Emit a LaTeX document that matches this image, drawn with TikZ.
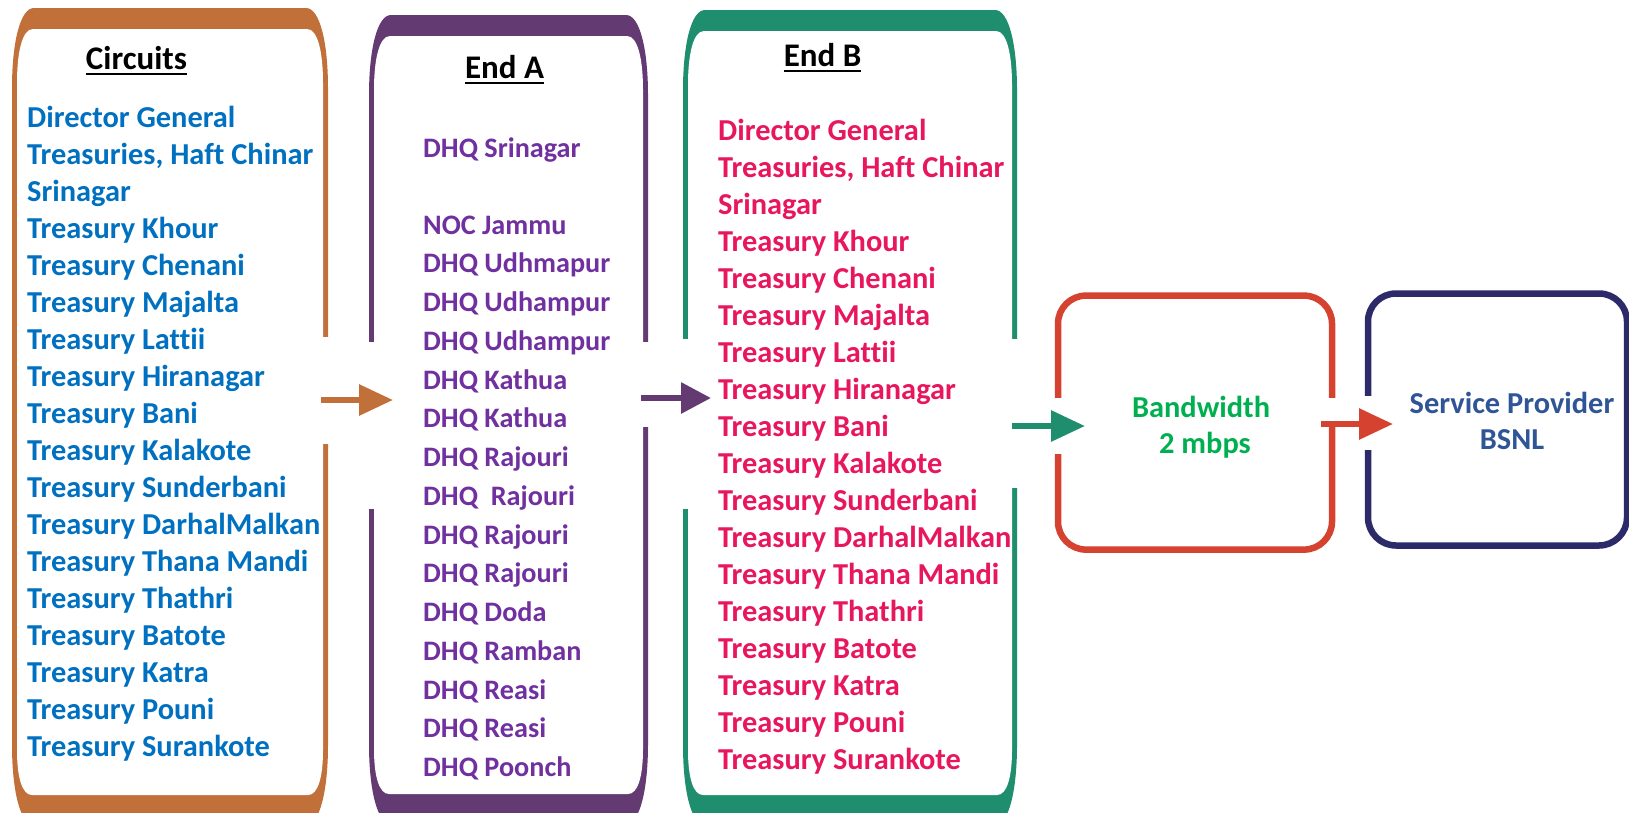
\documentclass[tikz,border=0pt]{standalone}
\usepackage{fontspec}
\setmainfont{Carlito}[Ligatures=NoCommon]
\usetikzlibrary{arrows.meta}
\definecolor{cOrange}{HTML}{C1703A}
\definecolor{cPurple}{HTML}{633A72}
\definecolor{cGreen}{HTML}{1F8E6E}
\definecolor{cRed}{HTML}{D54230}
\definecolor{cNavy}{HTML}{2C2A68}
\definecolor{tBlue}{HTML}{0070C0}
\definecolor{tPurple}{HTML}{7030A0}
\definecolor{tPink}{HTML}{E8175D}
\definecolor{tGreen}{HTML}{00B050}
\definecolor{tNavy}{HTML}{2F5597}
\newcommand\jarbox[5]{%
 \fill[#5] ({#1+22},#3) -- ({#2-22},#3) .. controls ({#2-8},#3) and (#2,{#3+35}) .. (#2,{#3+80})
   -- (#2,{#4-50}) .. controls (#2,{#4-5}) and ({#2-8},{#4+30}) .. ({#2-22},{#4+30})
   -- ({#1+22},{#4+30}) .. controls ({#1+8},{#4+30}) and (#1,{#4-5}) .. (#1,{#4-50})
   -- (#1,{#3+80}) .. controls (#1,{#3+35}) and ({#1+8},#3) .. ({#1+22},#3) -- cycle;
 \fill[white] ({#1+21},{#3+21}) -- ({#2-21},{#3+21}) .. controls ({#2-10},{#3+21}) and ({#2-5},{#3+45}) .. ({#2-5},{#3+75})
   -- ({#2-5},{#4-45}) .. controls ({#2-5},{#4-18}) and ({#2-10},#4) .. ({#2-20},#4)
   -- ({#1+20},#4) .. controls ({#1+10},#4) and ({#1+5},{#4-18}) .. ({#1+5},{#4-45})
   -- ({#1+5},{#3+75}) .. controls ({#1+5},{#3+45}) and ({#1+10},{#3+21}) .. ({#1+21},{#3+21}) -- cycle;
}
\begin{document}
\begin{tikzpicture}[x=1pt,y=-1pt,
  hdr/.style={anchor=base, inner sep=0pt, font=\fontsize{33}{40}\selectfont\bfseries, text=black},
  lstA/.style={anchor=base west, inner sep=0pt, font=\fontsize{30.4}{37}\selectfont\bfseries},
  lstB/.style={anchor=base west, inner sep=0pt, font=\fontsize{28.2}{35}\selectfont\bfseries, text=tPurple},
  mid/.style={anchor=base, inner sep=0pt, font=\fontsize{30.4}{37}\selectfont\bfseries},
  rbox/.style={draw, line width=6.5pt, rounded corners=28pt, inner sep=0pt},
  arr/.style={line width=6pt, -{Triangle[length=34pt,width=30pt]}},
  gap/.style={fill=white}]
\useasboundingbox (0,0) rectangle (1629,812);
\fill[white] (0,0) rectangle (1629,812);

% jar-shaped boxes
\jarbox{12}{328}{8}{795}{cOrange}
\jarbox{369}{648}{15}{794}{cPurple}
\jarbox{683}{1017}{10}{795}{cGreen}

% right-hand boxes
\node[rbox, draw=cRed, minimum width=274pt, minimum height=254pt] (bwbox) at (1195,422.6) {};
\node[rbox, draw=cNavy, minimum width=259pt, minimum height=252pt] (spbox) at (1497.5,419.5) {};

% gaps in the box sides
\fill[gap] (320,337) rectangle (331,444);
\fill[gap] (365,342) rectangle (376,509);
\fill[gap] (640,342) rectangle (652,427);
\fill[gap] (679,339) rectangle (690,509);
\fill[gap] (1009,339) rectangle (1021,488);
\fill[gap] (1052,398) rectangle (1064,454);
\fill[gap] (1326,398) rectangle (1338,424);
\fill[gap] (1362,396) rectangle (1374,450);

% headers
\node[hdr] (h1) at (136.5,69) {Circuits};
\node[hdr] (h2) at (504.5,78) {End A};
\node[hdr] (h3) at (822.5,66) {End B};
\foreach \h in {h1,h2,h3}
  \draw[line width=2pt] ([yshift=-5pt]\h.base west) -- ([yshift=-5pt]\h.base east);

% column 1
\foreach \t [count=\i from 0] in {Director General,{Treasuries, Haft Chinar},Srinagar,Treasury Khour,Treasury Chenani,Treasury Majalta,Treasury Lattii,Treasury Hiranagar,Treasury Bani,Treasury Kalakote,Treasury Sunderbani,Treasury DarhalMalkan,Treasury Thana Mandi,Treasury Thathri,Treasury Batote,Treasury Katra,Treasury Pouni,Treasury Surankote}
  \node[lstA, text=tBlue] (a\i) at (27,{127.4+37*\i}) {\t};

% column 2
\node[lstB] (b0) at (423,157) {DHQ Srinagar};
\foreach \t [count=\i from 1] in {NOC Jammu,DHQ Udhmapur,DHQ Udhampur,DHQ Udhampur,DHQ Kathua,DHQ Kathua,DHQ Rajouri,DHQ\ \ Rajouri,DHQ Rajouri,DHQ Rajouri,DHQ Doda,DHQ Ramban,DHQ Reasi,DHQ Reasi,DHQ Poonch}
  \node[lstB] (b\i) at (423,{234+38.75*(\i-1)}) {\t};

% column 3
\foreach \t [count=\i from 0] in {Director General,{Treasuries, Haft Chinar},Srinagar,Treasury Khour,Treasury Chenani,Treasury Majalta,Treasury Lattii,Treasury Hiranagar,Treasury Bani,Treasury Kalakote,Treasury Sunderbani,Treasury DarhalMalkan,Treasury Thana Mandi,Treasury Thathri,Treasury Batote,Treasury Katra,Treasury Pouni,Treasury Surankote}
  \node[lstA, text=tPink] (c\i) at (718,{140+37*\i}) {\t};

% box texts
\node[mid, text=tGreen] (bw1) at (1201,417) {Bandwidth};
\node[mid, text=tGreen] (bw2) at (1205,453) {2 mbps};
\node[mid, text=tNavy] (sp1) at (1512,413) {Service Provider};
\node[mid, text=tNavy] (sp2) at (1512,449) {BSNL};

% arrows
\coordinate (o1) at (321,400);  \coordinate (o2) at (393,400);
\coordinate (p1) at (641,398);  \coordinate (p2) at (711,398);
\coordinate (g1) at (1012,426); \coordinate (g2) at (1085,426);
\coordinate (r1) at (1321,424); \coordinate (r2) at (1393,424);
\draw[arr, cOrange] (o1) -- (o2);
\draw[arr, cPurple, -{Triangle[length=30pt,width=30pt]}] (p1) -- (p2);
\draw[arr, cGreen] (g1) -- (g2);
\draw[arr, cRed] (r1) -- (r2);
\end{tikzpicture}
\end{document}
